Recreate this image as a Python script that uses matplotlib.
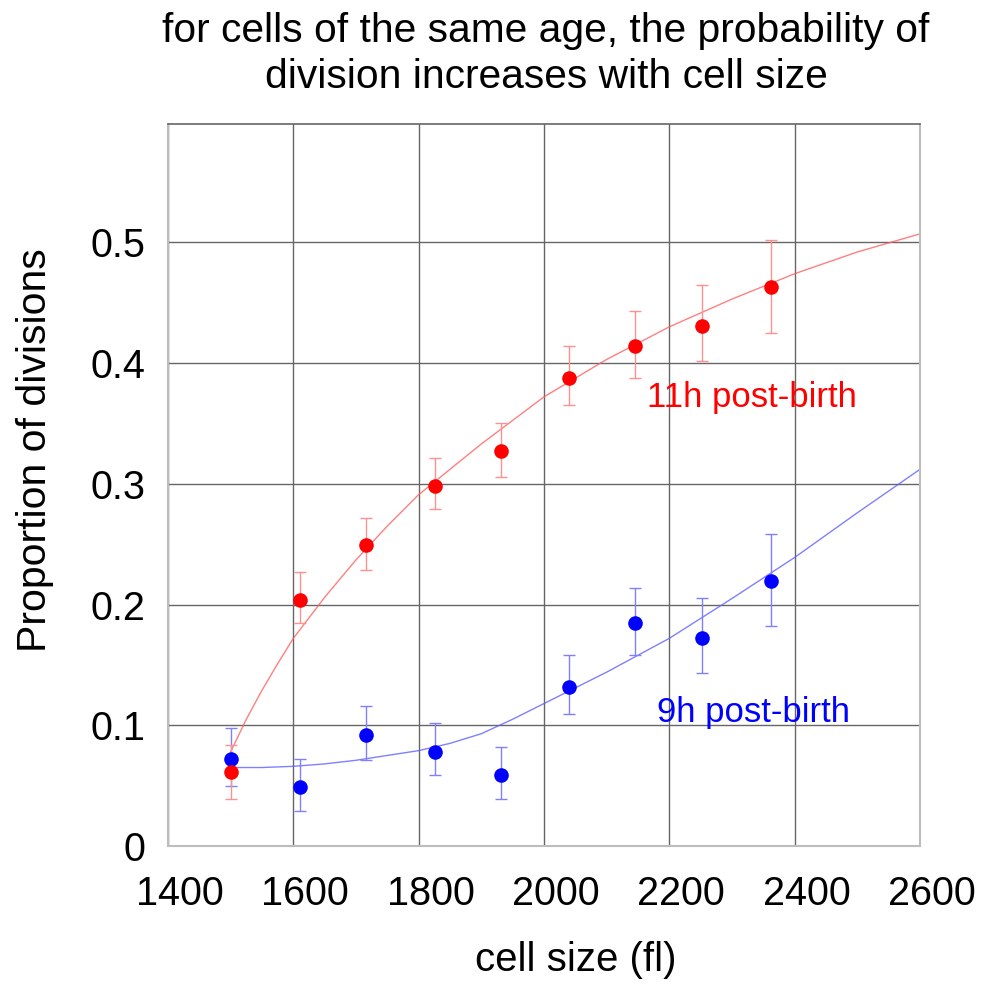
import matplotlib
matplotlib.use("Agg")
import matplotlib.pyplot as plt
import matplotlib.transforms as mtransforms

plt.rcParams['font.family'] = ['Liberation Sans', 'DejaVu Sans']

# --- data ---
cell_size = [1500, 1610, 1716, 1826, 1931, 2040, 2146, 2252, 2362]

p11 = [0.061, 0.204, 0.249, 0.298, 0.327, 0.388, 0.414, 0.431, 0.463]
p11_low = [0.039, 0.1845, 0.229, 0.279, 0.306, 0.365, 0.388, 0.402, 0.425]
p11_high = [0.084, 0.227, 0.272, 0.321, 0.350, 0.414, 0.443, 0.4645, 0.502]

p9 = [0.072, 0.0486, 0.092, 0.078, 0.0588, 0.1315, 0.1845, 0.172, 0.2196]
p9_low = [0.050, 0.029, 0.071, 0.0586, 0.039, 0.1094, 0.158, 0.1436, 0.1825]
p9_high = [0.098, 0.0724, 0.1157, 0.102, 0.082, 0.1582, 0.2135, 0.2057, 0.2585]

fit_x11 = [1500, 1525, 1550, 1575, 1600, 1650, 1700, 1750, 1800, 1900, 2000, 2100, 2200, 2300, 2400, 2500, 2600]
fit11 = [0.078, 0.105, 0.129, 0.151, 0.172, 0.206, 0.237, 0.265, 0.291, 0.333, 0.372, 0.403, 0.430, 0.453, 0.474, 0.492, 0.507]
fit_x9 = [1500, 1550, 1600, 1650, 1700, 1750, 1800, 1850, 1900, 1950, 2000, 2100, 2200, 2300, 2400, 2500, 2600]
fit9 = [0.065, 0.065, 0.066, 0.068, 0.071, 0.075, 0.079, 0.085, 0.093, 0.105, 0.118, 0.144, 0.172, 0.205, 0.239, 0.276, 0.312]

x_ticks = [1400, 1600, 1800, 2000, 2200, 2400, 2600]
y_ticks = [0, 0.1, 0.2, 0.3, 0.4, 0.5]
y_ticklabels = ['0', '0.1', '0.2', '0.3', '0.4', '0.5']

title = "for cells of the same age, the probability of\ndivision increases with cell size"
label11 = "11h post-birth"
label9 = "9h post-birth"

# --- figure ---
W, H = 998, 984
fig = plt.figure(figsize=(W / 100, H / 100), dpi=100)
ax = fig.add_axes([168 / W, 1 - 846 / H, (920 - 168) / W, (846 - 124) / H])

ax.set_xlim(1400, 2600)
ax.set_ylim(0, 0.598)
ax.set_xticks(x_ticks)
ax.set_yticks(y_ticks)
ax.set_yticklabels(y_ticklabels)
ax.tick_params(length=0, labelsize=28.5)
ax.tick_params(axis='y', pad=16)
ax.tick_params(axis='x', pad=21)
ax.grid(True, color='#666666', linewidth=1.0)
ax.set_axisbelow(True)
for side in ['left', 'bottom', 'right']:
    ax.spines[side].set_color('#bdbdbd')
    ax.spines[side].set_linewidth(1.5)
ax.spines['top'].set_color('#666666')
ax.spines['top'].set_linewidth(1.2)

# shift x tick labels slightly right, like the reference
offset = mtransforms.ScaledTranslation(12 / 100, 0, fig.dpi_scale_trans)
for lbl in ax.get_xticklabels():
    lbl.set_transform(lbl.get_transform() + offset)

# fitted curves
ax.plot(fit_x11, fit11, color='#ff6060', linewidth=1.0, alpha=0.8)
ax.plot(fit_x9, fit9, color='#6060ff', linewidth=1.0, alpha=0.8)

# error bars + points
err11 = [[v - l for v, l in zip(p11, p11_low)], [h - v for v, h in zip(p11, p11_high)]]
err9 = [[v - l for v, l in zip(p9, p9_low)], [h - v for v, h in zip(p9, p9_high)]]
ax.errorbar(cell_size, p9, yerr=err9, fmt='none', ecolor='#8080ff', elinewidth=1.0, capsize=4.5, capthick=1.0)
ax.errorbar(cell_size, p11, yerr=err11, fmt='none', ecolor='#ff9090', elinewidth=1.0, capsize=4.5, capthick=1.0)
ax.plot(cell_size, p9, 'o', color='#0000ff', markersize=10.5, markeredgewidth=0, zorder=5)
ax.plot(cell_size, p11, 'o', color='#ff0000', markersize=10.5, markeredgewidth=0, zorder=5)

ax.text(2164, 0.364, label11, color='#ff0000', fontsize=25, va='baseline', ha='left')
ax.text(2181, 0.103, label9, color='#0000ff', fontsize=25, va='baseline', ha='left')

fig.text(546 / W, 1 - 12 / H, title, ha='center', va='top', fontsize=29.3, linespacing=1.28)
fig.text(35 / W, 1 - 450 / H, "Proportion of divisions", rotation=90, ha='center', va='center', fontsize=29.5)
fig.text(576 / W, 1 - 960 / H, "cell size (fl)", ha='center', va='center', fontsize=29)

fig.savefig('out.png', dpi=100)
